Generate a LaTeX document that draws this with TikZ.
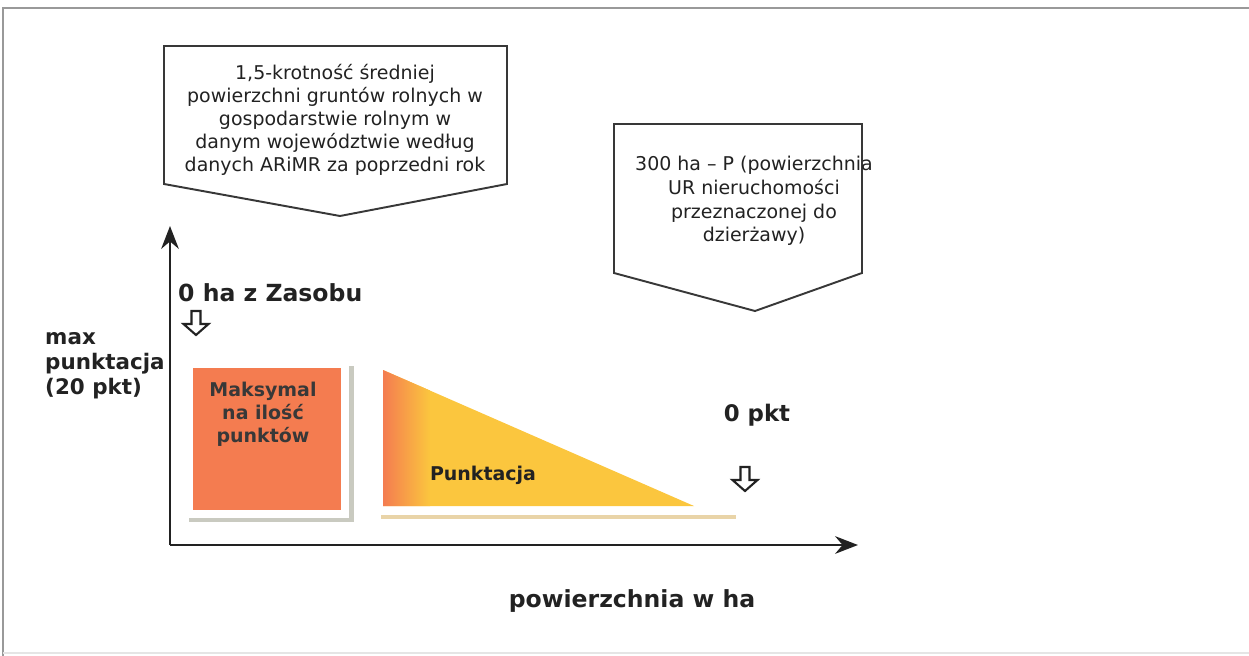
\documentclass[tikz,border=0pt]{standalone}
\usepackage{fontspec}
\setmainfont{DejaVu Sans}
\usepackage{xcolor}
\usetikzlibrary{arrows.meta, positioning, calc}
\definecolor{ink}{HTML}{222222}
\definecolor{coral}{HTML}{F47C50}
\definecolor{sun}{HTML}{FBC63E}
\definecolor{sand}{HTML}{E9D4A8}
\definecolor{shadowgrey}{HTML}{C9CAC0}

\begin{document}
\begin{tikzpicture}[
  x=0.02cm, y=-0.02cm,
  callout/.style={draw=ink!90, line width=1.1pt, fill=white},
  calltext/.style={align=center, font=\fontsize{10.8}{13.1}\selectfont, text=ink},
  bigtext/.style={font=\fontsize{13}{15}\selectfont\bfseries, text=ink},
  axis/.style={-{Stealth[length=13pt, width=10pt]}, line width=1.7pt, ink},
  hollowdown/.pic={
    \draw[ink, line width=1.2pt, fill=white, line join=miter]
      (-4.5,-12) -- (4.5,-12) -- (4.5,1) -- (12.5,1) -- (0,12) -- (-12.5,1) -- (-4.5,1) -- cycle;
  }
]
  \useasboundingbox (0,0) rectangle (1249,656);
  % frame
  \draw[gray!80, line width=0.8pt] (3,656) -- (3,8) -- (1255,8);
  \draw[gray!20, line width=0.6pt] (3,653) -- (1249,653);

  % callouts
  \draw[callout] (164,46) -- (507,46) -- (507,184) -- (340,216) -- (164,184) -- cycle;
  \node[calltext] (srednia) at (335,120) {1,5-krotność średniej\\powierzchni gruntów rolnych w\\gospodarstwie rolnym w\\danym województwie według\\danych ARiMR za poprzedni rok};

  \draw[callout] (614,124) -- (862,124) -- (862,273) -- (755,311) -- (614,273) -- cycle;
  \node[calltext, font=\fontsize{10.8}{13.4}\selectfont] (trzysta) at (754,201) {300 ha -- P (powierzchnia\\UR nieruchomości\\przeznaczonej do\\dzierżawy)};

  % bars
  \fill[shadowgrey] (349,366) rectangle (354,522);
  \fill[shadowgrey] (189,518) rectangle (354,522);
  \fill[coral] (193,368) rectangle (341,510);
  \node[font=\fontsize{10.8}{13}\selectfont\bfseries, text=ink!90, align=center, anchor=north] (maks) at (263,376) {Maksymal\\na ilość\\punktów};

  \fill[sun] (383,370) -- (383,506) -- (694,506) -- cycle;
  \begin{scope}
    \clip (383,370) -- (383,506) -- (694,506) -- cycle;
    \shade[left color=coral, right color=sun] (383,360) rectangle (430,510);
  \end{scope}
  \fill[sand] (381,515) rectangle (736,519);
  \node[font=\fontsize{10.8}{13}\selectfont\bfseries, text=ink] (punkt) at (483,475) {Punktacja};

  % axes
  \coordinate (origin) at (170,545);
  \coordinate (ytop) at (170,226);
  \coordinate (xend) at (858,545);
  \draw[axis] (origin) -- (ytop);
  \draw[axis] (origin) -- (xend);

  % labels
  \node[bigtext, font=\fontsize{12.2}{14.3}\selectfont\bfseries, align=left, anchor=west] (maxpkt) at (39,366) {max\\punktacja\\(20 pkt)};
  \node[bigtext, font=\fontsize{13.4}{15}\selectfont\bfseries, anchor=west] (zasob) at (172,293) {0 ha z Zasobu};
  \node[bigtext] (zeropkt) at (757,415) {0 pkt};
  \node[bigtext, font=\fontsize{13.4}{15}\selectfont\bfseries] (osx) at (632,601) {powierzchnia w ha};

  \pic (strzal1) at (196,323) {hollowdown};
  \pic (strzal2) at (745,479) {hollowdown};
\end{tikzpicture}
\end{document}
